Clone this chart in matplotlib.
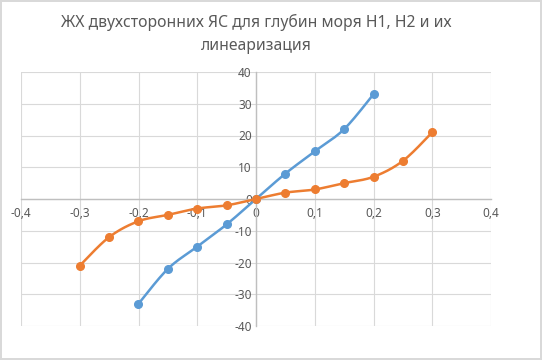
import matplotlib

matplotlib.use("Agg")
import matplotlib.pyplot as plt
import numpy as np
from matplotlib.ticker import FuncFormatter, MultipleLocator

# data
x_h1 = [-0.2, -0.15, -0.1, -0.05, 0.0, 0.05, 0.1, 0.15, 0.2]
y_h1 = [-33, -22, -15, -8, 0, 8, 15, 22, 33]
x_h2 = [-0.3, -0.25, -0.2, -0.15, -0.1, -0.05, 0.0, 0.05, 0.1, 0.15, 0.2, 0.25, 0.3]
y_h2 = [-21, -12, -7, -5, -3, -2, 0, 2, 3, 5, 7, 12, 21]

title = "ЖХ двухсторонних ЯС для глубин моря Н1, Н2 и их\nлинеаризация"
GRAY_TXT = "#595959"


def smooth(xs, ys, n=20):
    """Excel-like smoothed line (Catmull-Rom) through the given points."""
    p = np.column_stack([xs, ys]).astype(float)
    p = np.vstack([p[0], p, p[-1]])
    out = []
    t = np.linspace(0, 1, n)[:, None]
    for i in range(1, len(p) - 2):
        p0, p1, p2, p3 = p[i - 1], p[i], p[i + 1], p[i + 2]
        seg = 0.5 * ((2 * p1) + (-p0 + p2) * t + (2 * p0 - 5 * p1 + 4 * p2 - p3) * t**2
                     + (-p0 + 3 * p1 - 3 * p2 + p3) * t**3)
        out.append(seg)
    out = np.vstack(out)
    return out[:, 0], out[:, 1]


plt.rcParams["font.family"] = ["Noto Sans", "DejaVu Sans"]

fig = plt.figure(figsize=(5.42, 3.6), dpi=100)
fig.patch.set_edgecolor("#d9d9d9")
fig.patch.set_linewidth(1.5)
ax = fig.add_axes([21 / 542, 1 - 326 / 360, 470 / 542, 254 / 360])

for xs, ys, col in [(x_h1, y_h1, "#5b9bd5"), (x_h2, y_h2, "#ed7d31")]:
    sx, sy = smooth(xs, ys)
    ax.plot(sx, sy, color=col, lw=1.8, zorder=3, solid_capstyle="round")
    ax.plot(xs, ys, "o", color=col, ms=5.5, zorder=4)

ax.set_xlim(-0.4, 0.4)
ax.set_ylim(-40, 40)
ax.xaxis.set_major_locator(MultipleLocator(0.1))
ax.yaxis.set_major_locator(MultipleLocator(10))


def comma(v, pos):
    s = f"{v:.1f}".rstrip("0").rstrip(".")
    if s in ("-0", ""):
        s = "0"
    return s.replace(".", ",")


ax.xaxis.set_major_formatter(FuncFormatter(comma))
ax.yaxis.set_major_formatter(FuncFormatter(lambda v, p: f"{v:.0f}"))

ax.grid(True, color="#d9d9d9", lw=0.8, zorder=0)
ax.set_axisbelow(True)
for side in ("top", "right"):
    ax.spines[side].set_visible(False)
ax.spines["left"].set_position("zero")
ax.spines["bottom"].set_position("zero")
for side in ("left", "bottom"):
    ax.spines[side].set_color("#bfbfbf")
    ax.spines[side].set_linewidth(1)
ax.tick_params(length=0, labelsize=8.5, labelcolor=GRAY_TXT)
ax.tick_params(axis="x", pad=6)
ax.tick_params(axis="y", pad=3)

fig.text(256 / 542, 1 - 34 / 360, title, ha="center", va="center",
         fontsize=11.3, color=GRAY_TXT, linespacing=1.55)

fig.savefig("out.png", dpi=100, facecolor="white", edgecolor="#d9d9d9")
